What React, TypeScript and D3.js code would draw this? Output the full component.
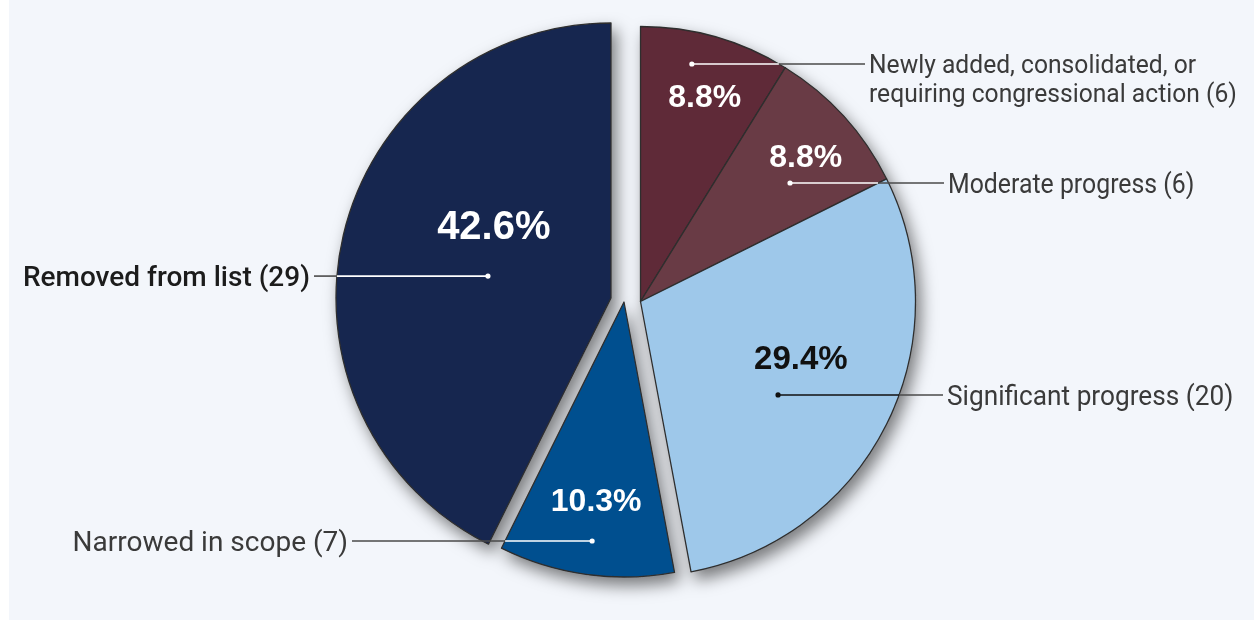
import React from "react";
import * as d3 from "d3";

// ---- data ----
const categories = [
  "Newly added, consolidated, or requiring congressional action",
  "Moderate progress",
  "Significant progress",
  "Narrowed in scope",
  "Removed from list",
];
const counts = [6, 6, 20, 7, 29];
const percentTexts = ["8.8%", "8.8%", "29.4%", "10.3%", "42.6%"];
const labelLines = [
  ["Newly added, consolidated, or", "requiring congressional action (6)"],
  ["Moderate progress (6)"],
  ["Significant progress (20)"],
  ["Narrowed in scope (7)"],
  ["Removed from list (29)"],
];
const sliceColors = ["#5e2a37", "#693b44", "#9ec8ea", "#044f8f", "#172750"];

// ---- layout ----
const W = 1254;
const H = 620;
const CX = 625;
const CY = 300;
const R = 275;
const explode: [number, number][] = [
  [15.5, 1.5],
  [15.5, 1.5],
  [15.5, 1.5],
  [-1, 2],
  [-14, -2],
];
// polar positions (deg clockwise from 12 o'clock, radius) relative to each slice's apex
const pctPolar: [number, number][] = [
  [17.4, 215],
  [48.7, 220],
  [109.4, 170],
  [188, 200],
  [301.9, 138],
];
const pctSize = [32, 32, 33, 32, 40];
const pctColor = ["#ffffff", "#ffffff", "#111111", "#ffffff", "#ffffff"];
const dotPolar: [number, number][] = [
  [12.2, 243],
  [51.6, 190.8],
  [124.2, 166.3],
  [187.6, 241.1],
  [280.1, 125],
];
const side = [1, 1, 1, -1, -1];
const leaderEnd = [865, 944, 943, 352, 314];
const innerLine = ["#ffffff", "#ffffff", "#111111", "#ffffff", "#ffffff"];
const labelColor = ["#3a3a3a", "#3a3a3a", "#3a3a3a", "#3a3a3a", "#1c1c1c"];
const labelWeight = [400, 400, 400, 400, 500];
const labelSize = [26, 27, 27, 28, 28];
const labelScaleX = [0.948, 0.92, 0.972, 1, 1];
const lineGap = 28.5;

const rad = (deg: number) => (deg * Math.PI) / 180;

export default function App() {
  const pie = d3
    .pie<number>()
    .sort(null)
    .value((d) => d)
    .startAngle(0)
    .endAngle(2 * Math.PI);
  const arcs = pie(counts);
  const arcGen = d3.arc<d3.PieArcDatum<number>>().innerRadius(0).outerRadius(R);

  const apex = (i: number): [number, number] => [CX + explode[i][0], CY + explode[i][1]];
  const polar = (i: number, p: [number, number]): [number, number] => {
    const [ax, ay] = apex(i);
    return [ax + p[1] * Math.sin(rad(p[0])), ay - p[1] * Math.cos(rad(p[0]))];
  };
  const inside = (i: number, x: number, y: number) => {
    const [ax, ay] = apex(i);
    const dx = x - ax;
    const dy = y - ay;
    const r = Math.hypot(dx, dy);
    let a = Math.atan2(dx, -dy);
    if (a < 0) a += 2 * Math.PI;
    return r <= R && a >= arcs[i].startAngle && a <= arcs[i].endAngle;
  };

  return (
    <div style={{ position: "absolute", left: 0, top: 0 }}>
      <svg width={W} height={H} viewBox={`0 0 ${W} ${H}`} style={{ display: "block" }}>
        <defs>
          <filter id="pieShadow" x="-20%" y="-20%" width="140%" height="140%">
            <feDropShadow dx="5" dy="8" stdDeviation="8" floodColor="#000" floodOpacity="0.5" />
          </filter>
        </defs>
        <rect x={0} y={0} width={W} height={H} fill="#ffffff" />
        <rect x={9} y={0} width={W - 9} height={H} fill="#f3f6fb" />

        <g filter="url(#pieShadow)">
          {arcs.map((a, i) => {
            const [ax, ay] = apex(i);
            return (
              <path
                key={categories[i]}
                d={arcGen(a) || ""}
                transform={`translate(${ax},${ay})`}
                fill={sliceColors[i]}
                stroke="#2e2e2e"
                strokeWidth={1.3}
                strokeLinejoin="round"
              />
            );
          })}
        </g>

        {arcs.map((a, i) => {
          const [dx0, dy0] = polar(i, dotPolar[i]);
          let ex = dx0;
          while (inside(i, ex + side[i] * 0.5, dy0)) ex += side[i] * 0.5;
          const textX = leaderEnd[i] + side[i] * 4;
          const s = labelScaleX[i];
          const fs = labelSize[i];
          return (
            <g key={"lead" + i}>
              <line x1={ex} y1={dy0} x2={leaderEnd[i]} y2={dy0} stroke="#4a4a4a" strokeWidth={1.6} />
              <line x1={dx0} y1={dy0} x2={ex} y2={dy0} stroke={innerLine[i]} strokeWidth={1.6} />
              <circle cx={dx0} cy={dy0} r={2.6} fill={innerLine[i]} />
              {labelLines[i].map((t, k) => (
                <text
                  key={k}
                  x={textX}
                  y={dy0 + fs * 0.355 + k * lineGap}
                  transform={`translate(${textX},0) scale(${s},1) translate(${-textX},0)`}
                  textAnchor={side[i] > 0 ? "start" : "end"}
                  fontFamily="Roboto, 'Noto Sans', sans-serif"
                  fontSize={fs}
                  fontWeight={labelWeight[i]}
                  fill={labelColor[i]}
                >
                  {t}
                </text>
              ))}
            </g>
          );
        })}

        {arcs.map((a, i) => {
          const [px, py] = polar(i, pctPolar[i]);
          return (
            <text
              key={"pct" + i}
              x={px}
              y={py}
              textAnchor="middle"
              dominantBaseline="central"
              fontFamily="'Liberation Sans', Arial, sans-serif"
              fontWeight={700}
              fontSize={pctSize[i]}
              fill={pctColor[i]}
            >
              {percentTexts[i]}
            </text>
          );
        })}
      </svg>
    </div>
  );
}
